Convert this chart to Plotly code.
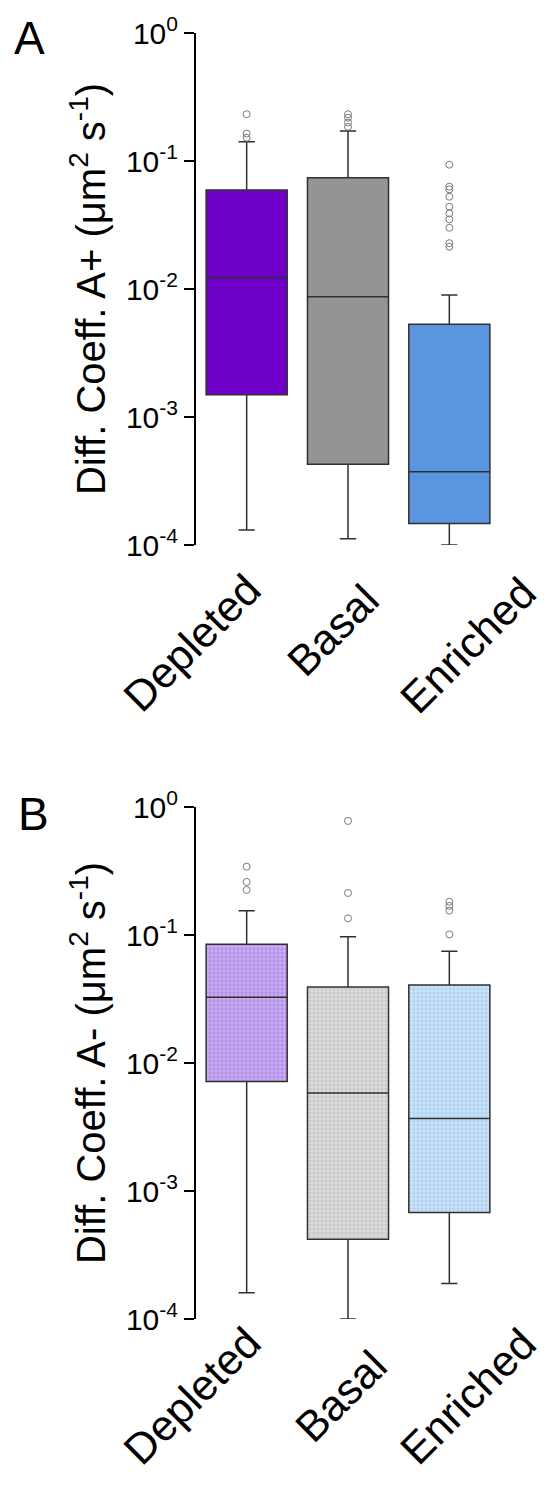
import plotly.graph_objects as go

categories = ["Depleted", "Basal", "Enriched"]

# Panel A (A+)
a_q1 = [0.00149, 0.000427, 0.000147]
a_median = [0.0123, 0.0087, 0.000374]
a_q3 = [0.0593, 0.0741, 0.0053]
a_lower = [0.000131, 0.000112, 0.000100]
a_upper = [0.1415, 0.1715, 0.00898]
a_outliers = [
    [0.232, 0.164, 0.152],
    [0.232, 0.218, 0.200, 0.185],
    [0.0936, 0.063, 0.060, 0.0526, 0.044, 0.039, 0.035, 0.0301, 0.0228, 0.0214],
]

# Panel B (A-)
b_q1 = [0.00716, 0.00042, 0.000678]
b_median = [0.0326, 0.00583, 0.00368]
b_q3 = [0.0846, 0.0392, 0.0407]
b_lower = [0.00016, 0.000100, 0.000189]
b_upper = [0.155, 0.097, 0.0746]
b_outliers = [
    [0.342, 0.26, 0.225],
    [0.778, 0.213, 0.135],
    [0.182, 0.169, 0.155, 0.101],
]

colors_a = ["#6E00C8", "#949494", "#5A96E0"]
colors_b_fg = ["#9560DE", "#ACACAC", "#86BBEC"]
colors_b_bg = ["#CBB3F1", "#DFDFDF", "#D0E5F9"]

tick_vals = [1e-4, 1e-3, 1e-2, 1e-1, 1e0]
tick_text = ["10<sup>-4</sup>", "10<sup>-3</sup>", "10<sup>-2</sup>", "10<sup>-1</sup>", "10<sup>0</sup>"]

# page body has an 8px default margin: lay out in reference pixels minus offset
OFF = 8
W, H = 553 - 2 * OFF, 1487 - 2 * OFF


def px_x(x):
    return (x - OFF) / W


def px_y(y):
    return 1 - (y - OFF) / H


fig = go.Figure()

xdom = [px_x(196), px_x(500)]
ydomA = [px_y(545), px_y(33)]
ydomB = [px_y(1319), px_y(807)]

edge = "#303030"

# Panel A boxes
for i, c in enumerate(categories):
    fig.add_trace(go.Box(
        x=[c], q1=[a_q1[i]], median=[a_median[i]], q3=[a_q3[i]],
        lowerfence=[a_lower[i]], upperfence=[a_upper[i]],
        fillcolor=colors_a[i], line=dict(color=edge, width=1.5),
        width=0.8, whiskerwidth=0.2, boxpoints=False,
        xaxis="x", yaxis="y", showlegend=False, hoverinfo="skip"))
    fig.add_trace(go.Scatter(
        x=[c] * len(a_outliers[i]), y=a_outliers[i], mode="markers",
        marker=dict(symbol="circle-open", size=7, color="#7A7A7A", line=dict(width=1)),
        xaxis="x", yaxis="y", showlegend=False, hoverinfo="skip"))

# Panel B hatched boxes
for i, c in enumerate(categories):
    fig.add_trace(go.Bar(
        x=[c], y=[b_q3[i] - b_q1[i]], base=[b_q1[i]], width=0.8,
        marker=dict(color=colors_b_bg[i], line=dict(width=0),
                    pattern=dict(shape="+", size=4, solidity=0.5,
                                 fgcolor=colors_b_fg[i], bgcolor=colors_b_bg[i])),
        xaxis="x2", yaxis="y2", showlegend=False, hoverinfo="skip"))
for i, c in enumerate(categories):
    fig.add_trace(go.Box(
        x=[c], q1=[b_q1[i]], median=[b_median[i]], q3=[b_q3[i]],
        lowerfence=[b_lower[i]], upperfence=[b_upper[i]],
        fillcolor="rgba(0,0,0,0)", line=dict(color=edge, width=1.5),
        width=0.8, whiskerwidth=0.2, boxpoints=False,
        xaxis="x2", yaxis="y2", showlegend=False, hoverinfo="skip"))
    fig.add_trace(go.Scatter(
        x=[c] * len(b_outliers[i]), y=b_outliers[i], mode="markers",
        marker=dict(symbol="circle-open", size=7, color="#7A7A7A", line=dict(width=1)),
        xaxis="x2", yaxis="y2", showlegend=False, hoverinfo="skip"))

font_family = "Liberation Sans, Arial, sans-serif"

xaxis_common = dict(
    type="category", categoryorder="array", categoryarray=categories,
    range=[-0.5, 2.5], showline=False, showgrid=False, zeroline=False,
    ticks="", showticklabels=False,
    domain=xdom, fixedrange=True, automargin=False,
)
yaxis_common = dict(
    type="log", range=[-4, 0], showline=True, linecolor="black", linewidth=2,
    showgrid=False, zeroline=False, ticks="outside", ticklen=10, tickwidth=2,
    tickcolor="black", tickvals=tick_vals, ticktext=tick_text,
    tickfont=dict(size=30, color="black", family=font_family), automargin=False,
)

# rotated category labels (centre of each rotated label, reference pixels)
label_shift_a = [-55, -15, 19]
label_cy_a = [643, 630, 645]
label_shift_b = [-55, -7, 19]
label_cy_b = [1396, 1396, 1396]

annotations = [
    dict(text="A", x=px_x(12), y=px_y(10), xref="paper", yref="paper",
         xanchor="left", yanchor="top", showarrow=False,
         font=dict(size=46, color="black", family=font_family)),
    dict(text="B", x=px_x(16), y=px_y(786), xref="paper", yref="paper",
         xanchor="left", yanchor="top", showarrow=False,
         font=dict(size=46, color="black", family=font_family)),
]
for i, c in enumerate(categories):
    annotations.append(dict(
        text=c, x=c, xref="x", xshift=label_shift_a[i], y=px_y(label_cy_a[i]), yref="paper",
        textangle=-45, xanchor="center", yanchor="middle", showarrow=False,
        font=dict(size=43, color="black", family=font_family)))
    annotations.append(dict(
        text=c, x=c, xref="x2", xshift=label_shift_b[i], y=px_y(label_cy_b[i]), yref="paper",
        textangle=-45, xanchor="center", yanchor="middle", showarrow=False,
        font=dict(size=43, color="black", family=font_family)))

fig.update_layout(
    width=W, height=H, margin=dict(l=0, r=0, t=0, b=0, autoexpand=False),
    paper_bgcolor="white", plot_bgcolor="white",
    boxmode="overlay", barmode="overlay",
    xaxis=dict(**xaxis_common, anchor="y"),
    yaxis=dict(**yaxis_common, domain=ydomA, anchor="x",
               title=dict(text="Diff. Coeff. A+ (μm<sup>2</sup> s<sup>-1</sup>)",
                          font=dict(size=40, color="black", family=font_family), standoff=8)),
    xaxis2=dict(**xaxis_common, anchor="y2"),
    yaxis2=dict(**yaxis_common, domain=ydomB, anchor="x2",
                title=dict(text="Diff. Coeff. A- (μm<sup>2</sup> s<sup>-1</sup>)",
                           font=dict(size=40, color="black", family=font_family), standoff=8)),
    annotations=annotations,
)

fig.write_html("out.html")
